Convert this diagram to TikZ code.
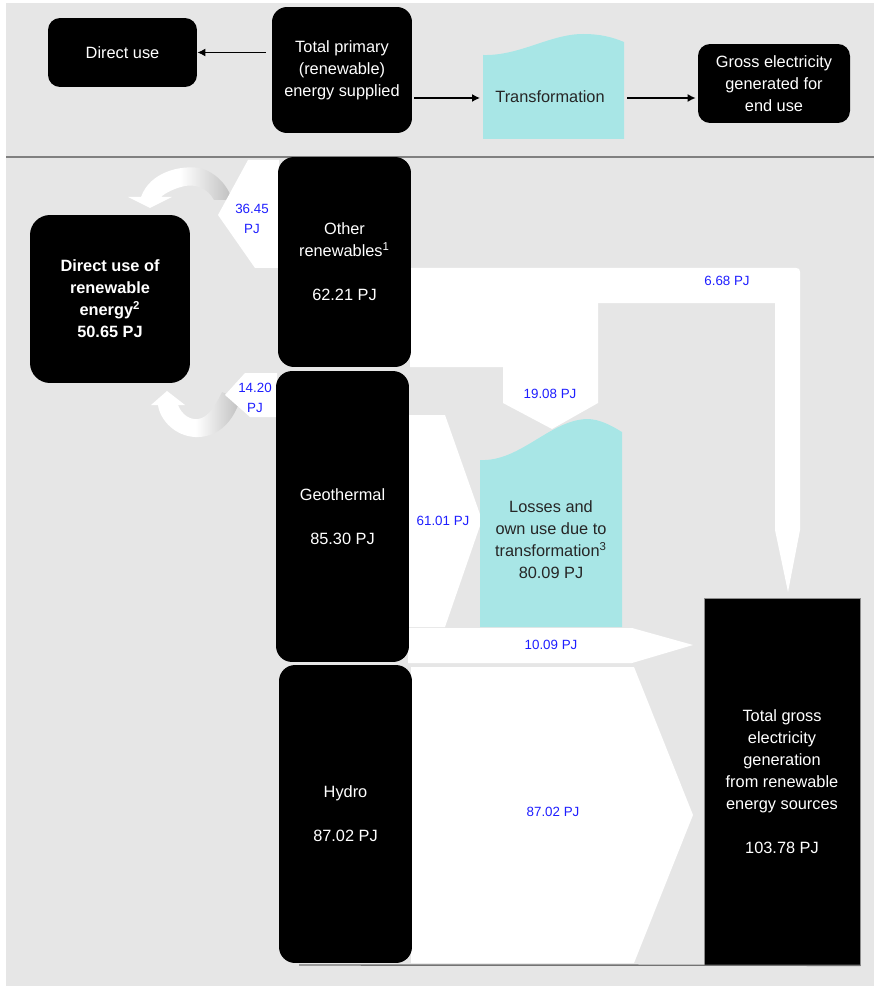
\documentclass[tikz,border=0pt]{standalone}
\usepackage{fontspec}
\setmainfont{Liberation Sans}
\usetikzlibrary{arrows.meta}

\definecolor{bggray}{RGB}{230,230,230}
\definecolor{wavecyan}{RGB}{168,230,230}
\definecolor{flowblue}{RGB}{30,30,255}
\definecolor{sepgray}{RGB}{128,128,128}

\newcommand{\boxfont}{\fontsize{9.3}{12.5}\selectfont}
\newcommand{\flowfont}{\fontsize{7.6}{11.4}\selectfont}

\tikzset{
  colbox/.style={fill=black, text=white, align=center, inner sep=0pt, rounded corners=0.32cm, font=\boxfont},
  topbox/.style={colbox, rounded corners=0.24cm},
  flowband/.style={fill=white},
  flowlabel/.style={text=flowblue, align=center, inner sep=0pt, font=\flowfont},
  wavetext/.style={text=black!85, align=center, inner sep=0pt, font=\boxfont},
  legendarrow/.style={draw=black, line width=0.8pt, -{Latex[length=0.16cm,width=0.16cm]}},
  turnarrow/.style={left color=white, right color=black!25, middle color=white},
}

\begin{document}
\begin{tikzpicture}[x=0.02cm, y=-0.02cm]
\useasboundingbox (0,0) rectangle (874,986);
\fill[bggray] (6,3) rectangle (874,986);
\draw[sepgray, line width=0.9pt] (6,157) -- (874,157);

% legend
\node[topbox, minimum width=2.98cm, minimum height=1.38cm] (dtop) at (122.5,52.5) {Direct use};
\node[topbox, rounded corners=0.3cm, minimum width=2.80cm, minimum height=2.52cm] (tps) at (342,70) {Total primary\\(renewable)\\energy supplied};
\fill[wavecyan] (483,139) -- (483,55) .. controls (520,56) and (550,34) .. (583,34) .. controls (600,34) and (612,37) .. (624,42) -- (624,139) -- cycle;
\node[wavetext] (trans) at (550,97) {Transformation};
\coordinate (transL) at (483,98);
\coordinate (transR) at (624,98);
\node[topbox, minimum width=3.04cm, minimum height=1.58cm] (gross) at (774,83.5) {Gross electricity\\generated for\\end use};
\draw[legendarrow, shorten <=0.12cm] (tps.west |- dtop.east) -- (dtop.east);
\draw[legendarrow, shorten <=0.04cm, shorten >=0.06cm] (tps.east |- transL) -- (transL);
\draw[legendarrow, shorten <=0.06cm, shorten >=0.04cm] (transR) -- (gross.west |- transR);

% turning arrows into direct use
\shade[turnarrow] (150,208) -- (128,197) -- (141,197) .. controls (150,172) and (180,165) .. (200,168) .. controls (215,172) and (228,185) .. (232,200) -- (214,200) .. controls (208,188) and (195,184) .. (185,186) .. controls (175,188) and (165,193) .. (161,197) -- (172,197) -- cycle;
\shade[turnarrow] (167,391) -- (185,405) -- (178,405) .. controls (182,415) and (190,420) .. (198,419) .. controls (208,418) and (216,405) .. (222,392) -- (240,400) .. controls (232,425) and (215,438) .. (195,437) .. controls (175,436) and (160,420) .. (158,405) -- (151,405) -- cycle;

% flows
\fill[flowband] (248,160) -- (279,160) -- (279,268) -- (255,268) -- (218,215) -- cycle;
\fill[flowband] (245,373) -- (277,373) -- (277,417) -- (250,417) -- (225,395) -- cycle;
\fill[flowband] (410,268) -- (796,268) .. controls (799,268) and (800,269) .. (800,272) -- (800,530) -- (788,592) -- (775,530) -- (775,303) -- (410,303) -- cycle;
\fill[flowband] (410,303) -- (598,303) -- (598,403) -- (552,429) -- (503,403) -- (503,367) -- (410,367) -- cycle;
\fill[flowband] (408,415) -- (445,415) -- (482,520) -- (445,627) -- (408,627) -- cycle;
\fill[flowband] (408,628) -- (632,628) -- (693,645) -- (632,663) -- (408,663) -- cycle;
\fill[flowband] (411,667) -- (634,667) -- (693,815) -- (634,963) -- (411,963) -- cycle;

% sources and sinks
\node[colbox, minimum width=2.66cm, minimum height=4.20cm] (other) at (344.5,262) {Other\\renewables\textsuperscript{1}\\[12.5pt]62.21 PJ};
\node[colbox, minimum width=2.66cm, minimum height=5.82cm] (geo) at (342.5,516.5) {Geothermal\\[12.5pt]85.30 PJ};
\node[colbox, minimum width=2.66cm, minimum height=5.96cm] (hydro) at (345.5,814) {Hydro\\[12.5pt]87.02 PJ};
\node[colbox, rounded corners=0.4cm, font=\boxfont\bfseries, minimum width=3.20cm, minimum height=3.36cm] (direct) at (110,299) {Direct use of\\renewable\\energy\textsuperscript{2}\\50.65 PJ};
\node[colbox, sharp corners, draw=black!45, minimum width=3.12cm, minimum height=7.34cm] (total) at (782,781.5) {Total gross\\electricity\\generation\\from renewable\\energy sources\\[12.5pt]103.78 PJ};
\fill[wavecyan] (480,627) -- (480,460) .. controls (520,462) and (550,420) .. (587,419) .. controls (600,419) and (612,426) .. (622,432) -- (622,627) -- cycle;
\node[wavetext] (losses) at (551,540) {Losses and\\own use due to\\transformation\textsuperscript{3}\\80.09 PJ};
\draw[black!55, line width=0.8pt] (299,965) -- (total.south east);

% flow values
\node[flowlabel] (lblOD) at (252,219) {36.45\\PJ};
\node[flowlabel] (lblGD) at (255,398) {14.20\\PJ};
\node[flowlabel] (lblOT) at (727,281) {6.68 PJ};
\node[flowlabel] (lblOL) at (550,394) {19.08 PJ};
\node[flowlabel] (lblGL) at (443,521) {61.01 PJ};
\node[flowlabel] (lblGT) at (551,645) {10.09 PJ};
\node[flowlabel] (lblHT) at (553,812) {87.02 PJ};
\end{tikzpicture}
\end{document}
